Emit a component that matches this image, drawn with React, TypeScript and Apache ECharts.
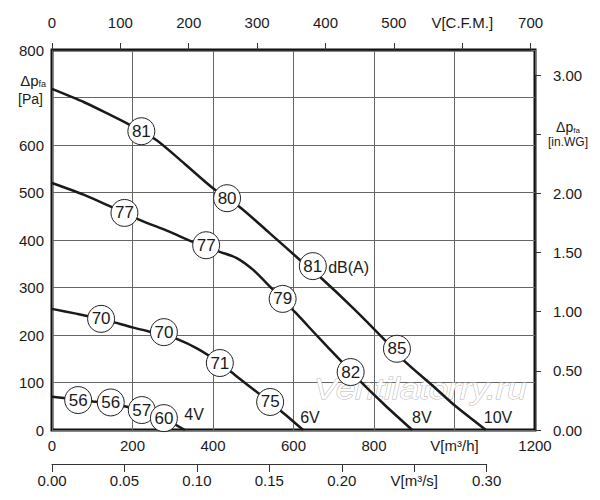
import { useEffect, useRef } from 'react'
import * as echarts from 'echarts'

// fan curves: [V m3/h, dp Pa]
const curve10V: [number, number][] = [
  [0, 718], [80, 690], [136, 667], [194, 642], [260, 610], [330, 560], [400, 509],
  [467, 469], [540, 415], [616, 358], [666, 322], [750, 255], [827, 189], [873, 147],
  [950, 90], [1000, 52], [1078, 0],
]
const curve8V: [number, number][] = [
  [0, 520], [80, 495], [149, 469], [219, 442], [290, 418], [350, 396], [417, 375],
  [459, 362], [500, 337], [546, 298], [604, 248], [660, 197], [716, 147], [770, 99],
  [830, 50], [895, 0],
]
const curve6V: [number, number][] = [
  [0, 255], [60, 245], [122, 234], [157, 226], [200, 216], [243, 207], [278, 200],
  [310, 192], [360, 172], [417, 141], [460, 112], [509, 80], [542, 59], [580, 32], [624, 0],
]
const curve4V: [number, number][] = [
  [0, 70], [65, 64], [102, 60], [146, 56], [186, 49], [223, 41], [278, 24], [330, 0],
]

// noise level markers dB(A): [V, dp, value]
const noiseMarks: [number, number, string][] = [
  [222, 629, '81'], [435, 488, '80'], [648, 345, '81'], [857, 171, '85'],
  [180, 457, '77'], [383, 389, '77'], [573, 276, '79'], [742, 122, '82'],
  [122, 234, '70'], [278, 206, '70'], [417, 141, '71'], [542, 59, '75'],
  [65, 63, '56'], [146, 58, '56'], [223, 42, '57'], [278, 25, '60'],
]

const voltageLabels: [number, number, string][] = [
  [353, 32, '4V'], [641, 27, '6V'], [919, 27, '8V'], [1108, 27, '10V'],
]
const unitLabel: [number, number, string][] = [[737, 343, 'dB(A)']]

const FONT = "'Liberation Sans', Arial, sans-serif"
const INK = '#1a1a1a'

export default function App() {
  const chartRef = useRef<HTMLDivElement>(null)

  useEffect(() => {
    if (!chartRef.current) return
    const chart = echarts.init(chartRef.current, undefined, { renderer: 'svg' })

    const lineSeries = (data: [number, number][]) => ({
      type: 'line' as const,
      xAxisIndex: 0,
      yAxisIndex: 0,
      data,
      smooth: 0.25,
      symbol: 'none',
      lineStyle: { color: INK, width: 2.5 },
      z: 2,
    })

    const tickLabel = { color: INK, fontSize: 15, fontFamily: FONT }
    const hidden = { show: false, type: 'value' as const }

    chart.setOption({
      animation: false,
      textStyle: { fontFamily: FONT },
      grid: [
        { left: 52, right: 65, top: 50, bottom: 70, show: true, borderColor: '#111', borderWidth: 3 },
        { left: 52, width: 478.6, top: 40, height: 10 },
        { left: 52, width: 434.7, top: 454, height: 10 },
        { left: 535, width: 10, top: 75.2, bottom: 70 },
      ],
      xAxis: [
        {
          gridIndex: 0, type: 'value', min: 0, max: 1200, interval: 200, position: 'bottom',
          axisLine: { show: false }, axisTick: { show: false },
          splitLine: { lineStyle: { color: '#666', width: 1 } },
          axisLabel: { ...tickLabel, margin: 8, formatter: (v: number) => (v === 1000 ? 'V[m³/h]' : String(v)) },
        },
        {
          gridIndex: 1, type: 'value', min: 0, max: 700, interval: 100, position: 'top',
          axisLine: { lineStyle: { color: '#333', width: 1 } },
          axisTick: { length: 7, lineStyle: { color: '#333' } },
          splitLine: { show: false },
          axisLabel: { ...tickLabel, margin: 10, formatter: (v: number) => (v === 600 ? 'V[C.F.M.]' : String(v)) },
        },
        {
          gridIndex: 2, type: 'value', min: 0, max: 0.3, interval: 0.05, position: 'bottom',
          axisLine: { lineStyle: { color: '#333', width: 1 } },
          axisTick: { length: 8, lineStyle: { color: '#333' } },
          splitLine: { show: false },
          axisLabel: {
            ...tickLabel, margin: 9,
            formatter: (v: number) => (Math.abs(v - 0.25) < 1e-6 ? 'V[m³/s]' : v.toFixed(2)),
          },
        },
        { ...hidden, gridIndex: 3 },
      ],
      yAxis: [
        {
          gridIndex: 0, type: 'value', min: 0, max: 800, interval: 100,
          axisLine: { show: false }, axisTick: { show: false },
          splitLine: { lineStyle: { color: '#666', width: 1 } },
          axisLabel: { ...tickLabel, margin: 8, formatter: (v: number) => (v === 700 ? '' : String(v)) },
        },
        { ...hidden, gridIndex: 1 },
        { ...hidden, gridIndex: 2 },
        {
          gridIndex: 3, type: 'value', min: 0, max: 3, interval: 0.5, position: 'right',
          axisLine: { show: true, lineStyle: { color: '#333', width: 1 } },
          axisTick: { show: true, length: 6, lineStyle: { color: '#333' } },
          splitLine: { show: false },
          axisLabel: {
            ...tickLabel, margin: 8,
            formatter: (v: number) => (Math.abs(v - 2.5) < 1e-6 ? '' : v.toFixed(2)),
          },
        },
      ],
      graphic: [
        {
          type: 'text', x: 314, y: 374, scaleX: 1.16, z: 1,
          style: {
            text: 'Ventilatorry.ru', font: `italic 30px ${FONT}`,
            fill: '#ffffff', stroke: '#b8b8b8', lineWidth: 1,
          },
        },
        {
          type: 'text', x: 46, y: 89,
          style: {
            text: '{d|Δp}{s|fa}\n{u|[Pa]}', align: 'right', verticalAlign: 'middle',
            rich: {
              d: { fontSize: 15, fill: INK, fontFamily: FONT, lineHeight: 20, align: 'right' },
              s: { fontSize: 9, fill: INK, fontFamily: FONT, padding: [8, 0, 0, 0], align: 'right' },
              u: { fontSize: 14, fill: INK, fontFamily: FONT, lineHeight: 18, align: 'right', padding: [0, 3, 0, 0] },
            },
          },
        },
        {
          type: 'text', x: 568, y: 134,
          style: {
            text: '{d|Δp}{s|fa}\n{u|[in.WG]}', align: 'center', verticalAlign: 'middle',
            rich: {
              d: { fontSize: 14, fill: INK, fontFamily: FONT, lineHeight: 14, align: 'center' },
              s: { fontSize: 8, fill: INK, fontFamily: FONT, padding: [7, 0, 0, 0], align: 'center' },
              u: { fontSize: 12, fill: INK, fontFamily: FONT, lineHeight: 14, align: 'center' },
            },
          },
        },
      ],
      series: [
        lineSeries(curve10V),
        lineSeries(curve8V),
        lineSeries(curve6V),
        lineSeries(curve4V),
        {
          type: 'scatter', xAxisIndex: 0, yAxisIndex: 0, z: 4,
          data: noiseMarks,
          symbol: 'circle', symbolSize: 27,
          itemStyle: { color: '#fff', borderColor: '#222', borderWidth: 1, opacity: 1 },
          label: {
            show: true, position: 'inside', color: INK, fontSize: 17, fontFamily: FONT,
            formatter: (p: { value: [number, number, string] }) => p.value[2],
          },
          emphasis: { disabled: true },
        },
        {
          type: 'scatter', xAxisIndex: 0, yAxisIndex: 0, z: 4,
          data: [...voltageLabels, ...unitLabel],
          symbolSize: 0,
          itemStyle: { opacity: 1 },
          label: {
            show: true, position: 'inside', color: INK, fontSize: 16, fontFamily: FONT,
            formatter: (p: { value: [number, number, string] }) => p.value[2],
          },
          emphasis: { disabled: true },
        },
      ],
    })

    return () => chart.dispose()
  }, [])

  return (
    <div style={{ position: 'absolute', left: 0, top: 0, width: 600, height: 500, background: '#fff' }}>
      <div ref={chartRef} style={{ width: 600, height: 500 }} />
    </div>
  )
}
